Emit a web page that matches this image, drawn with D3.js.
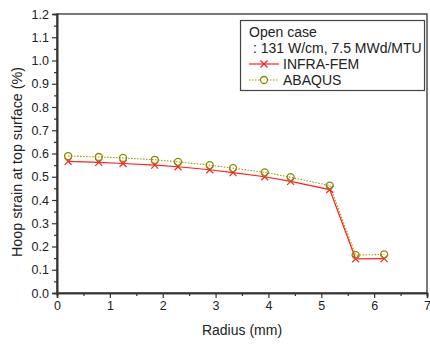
<!DOCTYPE html>
<html>
<head>
<meta charset="utf-8">
<script src="https://cdn.jsdelivr.net/npm/d3@7"></script>
<style>
  body { margin: 0; background: #fff; }
  text { font-family: "Liberation Sans", Arial, sans-serif; fill: #222; }
</style>
</head>
<body>
<div id="chart"></div>
<script>
// Data
const radius = [0.21, 0.79, 1.25, 1.85, 2.29, 2.89, 3.33, 3.93, 4.42, 5.16, 5.65, 6.19];
const infraFem = [0.566, 0.562, 0.557, 0.550, 0.543, 0.530, 0.518, 0.500, 0.480, 0.445, 0.147, 0.148];
const abaqus = [0.589, 0.585, 0.581, 0.573, 0.564, 0.550, 0.537, 0.519, 0.498, 0.462, 0.163, 0.166];
const xTicks = [0, 1, 2, 3, 4, 5, 6, 7];
const yTicks = d3.range(0, 13).map(i => i / 10);
const legendLines = ["Open case", " : 131 W/cm, 7.5 MWd/MTU"];

const width = 430, height = 345;
const margin = {left: 57, top: 14, right: 3, bottom: 52};

const svg = d3.select("#chart").append("svg")
    .attr("width", width)
    .attr("height", height);

const x = d3.scaleLinear().domain([0, 7]).range([margin.left, width - margin.right]);
const y = d3.scaleLinear().domain([0, 1.2]).range([height - margin.bottom, margin.top]);

// frame
svg.append("rect")
    .attr("x", x(0)).attr("y", y(1.2))
    .attr("width", x(7) - x(0)).attr("height", y(0) - y(1.2))
    .attr("fill", "none").attr("stroke", "#333").attr("stroke-width", 1.3);

// x axis
svg.append("g")
    .attr("transform", `translate(0,${y(0)})`)
    .call(d3.axisBottom(x).tickValues(xTicks).tickFormat(d3.format("d")).tickSize(5).tickPadding(3));
svg.append("g")
    .attr("transform", `translate(0,${y(0)})`)
    .call(d3.axisBottom(x).tickValues(d3.range(0.5, 7, 1)).tickFormat("").tickSize(3));

// y axis
svg.append("g")
    .attr("transform", `translate(${x(0)},0)`)
    .call(d3.axisLeft(y).tickValues(yTicks).tickFormat(d3.format(".1f")).tickSize(5).tickPadding(3));
svg.append("g")
    .attr("transform", `translate(${x(0)},0)`)
    .call(d3.axisLeft(y).tickValues(d3.range(0.05, 1.2, 0.1)).tickFormat("").tickSize(3));

svg.selectAll(".domain").attr("stroke", "#333").attr("stroke-width", 1.6);
svg.selectAll(".tick line").attr("stroke", "#333").attr("stroke-width", 1.2);
svg.selectAll(".tick text").style("font-size", "12.5px").attr("fill", "#222");

// axis titles
svg.append("text")
    .attr("x", (x(0) + x(7)) / 2).attr("y", 335)
    .attr("text-anchor", "middle").style("font-size", "14px")
    .text("Radius (mm)");
svg.append("text")
    .attr("transform", "translate(22,162) rotate(-90)")
    .attr("text-anchor", "middle").style("font-size", "14.3px")
    .text("Hoop strain at top surface (%)");

// series
const pts = (vals) => radius.map((r, i) => [r, vals[i]]);
const line = d3.line().x(d => x(d[0])).y(d => y(d[1]));

svg.append("path").datum(pts(abaqus))
    .attr("d", line).attr("fill", "none")
    .attr("stroke", "#9a9a00").attr("stroke-width", 1.1).attr("stroke-dasharray", "1.5,1.5");

svg.append("path").datum(pts(infraFem))
    .attr("d", line).attr("fill", "none")
    .attr("stroke", "#ff2020").attr("stroke-width", 1.2);

function cross(g, cx, cy, s) {
  g.append("path")
    .attr("d", `M${cx - s},${cy - s}L${cx + s},${cy + s}M${cx - s},${cy + s}L${cx + s},${cy - s}`)
    .attr("stroke", "#ff2020").attr("stroke-width", 1.2).attr("fill", "none");
}

const crosses = svg.append("g");
pts(infraFem).forEach(d => cross(crosses, x(d[0]), y(d[1]), 3.5));

svg.append("g").selectAll("circle")
    .data(pts(abaqus))
    .enter().append("circle")
    .attr("cx", d => x(d[0])).attr("cy", d => y(d[1]))
    .attr("r", 3.5)
    .attr("fill", "none").attr("stroke", "#8a8a00").attr("stroke-width", 1.3);

// legend
const lg = svg.append("g");
lg.append("rect")
    .attr("x", 240.5).attr("y", 20.5).attr("width", 184).attr("height", 70)
    .attr("fill", "#fff").attr("stroke", "#444").attr("stroke-width", 1.2);
legendLines.forEach((t, i) => {
  lg.append("text").attr("x", 249).attr("y", 37 + i * 16)
    .style("font-size", "14px").style("white-space", "pre").text(t);
});
lg.append("line").attr("x1", 249).attr("x2", 279).attr("y1", 64).attr("y2", 64)
  .attr("stroke", "#ff2020").attr("stroke-width", 1.2);
cross(lg, 264, 64, 3.5);
lg.append("text").attr("x", 283).attr("y", 69).style("font-size", "14px").text("INFRA-FEM");
lg.append("line").attr("x1", 249).attr("x2", 279).attr("y1", 80).attr("y2", 80)
  .attr("stroke", "#9a9a00").attr("stroke-width", 1.1).attr("stroke-dasharray", "1.5,1.5");
lg.append("circle").attr("cx", 264).attr("cy", 80).attr("r", 3.5)
  .attr("fill", "#fff").attr("stroke", "#8a8a00").attr("stroke-width", 1.3);
lg.append("text").attr("x", 283).attr("y", 85).style("font-size", "14px").text("ABAQUS");
</script>
</body>
</html>
